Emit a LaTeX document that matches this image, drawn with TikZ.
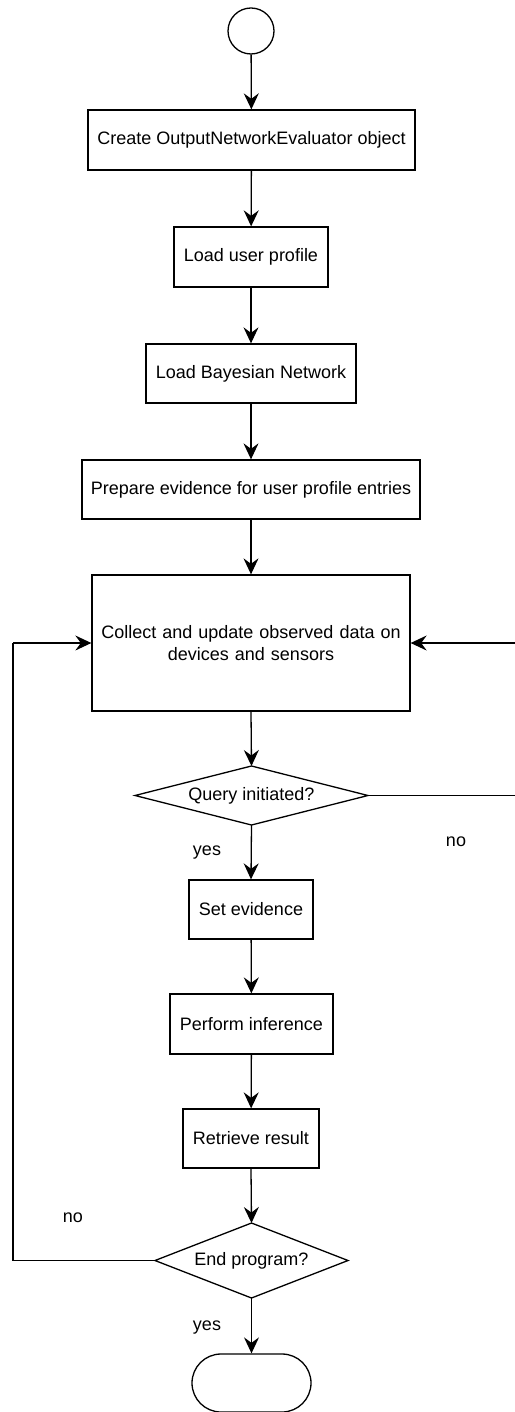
\documentclass[tikz,border=0pt]{standalone}
\usepackage{fontspec}
\setmainfont{Liberation Sans}
\usetikzlibrary{arrows.meta}
\begin{document}
\begin{tikzpicture}[x=1pt,y=-1pt,
  every node/.style={font=\fontsize{18}{21.5}\selectfont, inner sep=0pt},
  proc/.style={draw, rectangle, line width=1.3pt, align=center},
  flow/.style={line width=1.3pt, -{Stealth[length=16pt,width=15pt,inset=5.5pt]}},
  plain/.style={line width=1.3pt},
  lbl/.style={}]
\useasboundingbox (0,0) rectangle (514,1412);
\fill[white] (0,0) rectangle (514,1412);

% start marker
\node[draw, circle, line width=1.3pt, minimum size=46pt] (start) at (251,31) {};

% sequence of steps
\node[proc, minimum width=327pt, minimum height=60pt] (create) at (251.5,140) {Create OutputNetworkEvaluator object};
\node[proc, minimum width=154pt, minimum height=60pt] (profile) at (251,257) {Load user profile};
\node[proc, minimum width=210pt, minimum height=59pt] (bn) at (251,373.5) {Load Bayesian Network};
\node[proc, minimum width=338pt, minimum height=59pt] (prep) at (251,489.5) {Prepare evidence for user profile entries};
\node[proc, minimum width=318pt, minimum height=136pt, text width=300pt] (collect) at (251,643) {Collect and update observed data on\\devices and sensors};

% query decision
\coordinate (qN) at (251.5,766);
\coordinate (qE) at (368,795.5);
\coordinate (qS) at (251.5,825);
\coordinate (qW) at (135,795.5);
\draw[plain, fill=white] (qW) -- (qN) -- (qE) -- (qS) -- cycle;
\node (query) at (251.5,795.5) {Query initiated?};

\node[proc, minimum width=124pt, minimum height=59pt] (setev) at (251,909.5) {Set evidence};
\node[proc, minimum width=163pt, minimum height=60pt] (infer) at (251.5,1024) {Perform inference};
\node[proc, minimum width=136pt, minimum height=59pt] (result) at (251,1138.5) {Retrieve result};

% end decision
\coordinate (eN) at (251.5,1223);
\coordinate (eE) at (348,1260.5);
\coordinate (eS) at (251.5,1298);
\coordinate (eW) at (155,1260.5);
\draw[plain, fill=white] (eW) -- (eN) -- (eE) -- (eS) -- cycle;
\node (endq) at (251.5,1260.5) {End program?};

% terminal
\node[draw, line width=1.3pt, rounded corners=29pt, minimum width=119pt, minimum height=58pt] (stop) at (251.5,1383) {};

% connectors
\draw[flow] (start) -- (create);
\draw[flow] (create) -- (profile);
\draw[flow] (profile) -- (bn);
\draw[flow] (bn) -- (prep);
\draw[flow] (prep) -- (collect);
\draw[flow] (collect.south) -- (qN);
\draw[flow] (qS) -- (setev.north);
\draw[flow] (setev) -- (infer);
\draw[flow] (infer) -- (result);
\draw[flow] (result.south) -- (eN);
\draw[flow] (eS) -- (stop.north);

% loop back when a query is not initiated
\coordinate (rightrail) at (525,643);
\draw[plain] (qE) -- (525,795.5) -- (rightrail);
\draw[flow] (rightrail) -- (collect.east);

% loop back when the program continues
\coordinate (leftrail) at (13,643);
\draw[plain] (eW) -- (13,1260.5) -- (leftrail);
\draw[flow] (leftrail) -- (collect.west);

% branch labels
\node[lbl] (no1) at (456,842) {no};
\node[lbl] (yes1) at (207,853) {yes};
\node[lbl] (no2) at (73,1218) {no};
\node[lbl] (yes2) at (207,1328) {yes};
\end{tikzpicture}
\end{document}
